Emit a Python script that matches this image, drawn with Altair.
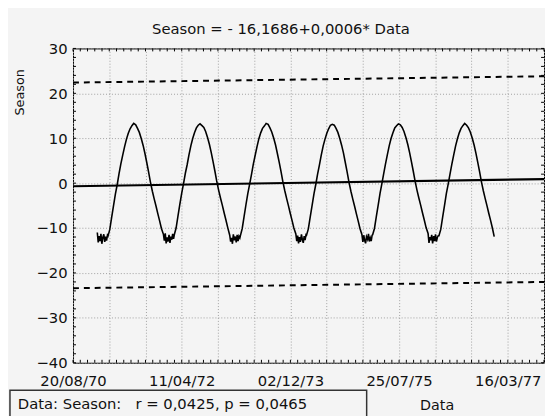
import altair as alt
import pandas as pd

TITLE = "Season = - 16,1686+0,0006* Data"
STATS = "Data: Season:\u00a0\u00a0\u00a0r = 0,0425, p = 0,0465"
X_TITLE = "Data"
Y_TITLE = "Season"

# Axis tick values (Statistica date serials, days)
X_GRID = list(range(25800, 28401, 200))
X_MINOR = list(range(25800, 28401, 40))
Y_MAJOR = list(range(-40, 31, 10))
Y_MINOR = list(range(-40, 31, 2))

YEARS = [1971, 1972, 1973, 1974, 1975, 1976]
TROUGH_DAYS = [(1, 1), (1, 6), (1, 11), (1, 16), (1, 21), (1, 26),
               (2, 1), (2, 6), (2, 11), (2, 16), (2, 21), (2, 26)]
REST_DAYS = [(m, d) for m in range(3, 13) for d in (1, 11, 21)]

TROUGH_VALS = {
    1971: [-11.0, -13.2, -11.8, -12.9, -11.3, -13.5, -12.0, -11.4, -13.1, -11.9, -12.8, -11.6],
    1972: [-11.4, -12.8, -11.2, -13.4, -12.1, -13.0, -11.5, -13.3, -11.9, -12.6, -11.3, -12.4],
    1973: [-11.6, -13.0, -12.2, -13.5, -11.4, -12.7, -11.9, -13.2, -11.5, -12.9, -11.8, -12.2],
    1974: [-11.3, -12.9, -11.7, -13.4, -12.0, -13.1, -11.4, -12.6, -13.3, -11.8, -12.7, -11.5],
    1975: [-11.5, -13.1, -11.6, -12.8, -13.4, -11.9, -12.5, -11.3, -13.0, -12.2, -12.9, -11.6],
    1976: [-11.2, -13.3, -12.0, -12.7, -11.5, -13.4, -11.8, -12.9, -11.4, -13.0, -12.1, -11.7],
}
REST_VALS = {
    1971: [-11.8, -10.3, -7.7, -4.9, -2.4, -0.3, 2.1, 4.3, 6.2, 8.2, 9.8, 11.1, 12.1, 12.8, 13.3,
           13.0, 12.2, 11.3, 9.9, 8.4, 6.6, 4.6, 2.5, 0.3, -1.8, -3.5, -5.1, -6.8, -8.4, -10.1],
    1972: [-11.5, -10.0, -7.4, -4.6, -2.2, -0.1, 2.2, 4.1, 6.3, 8.4, 10.0, 11.3, 12.3, 12.9, 13.2,
           12.8, 12.4, 11.5, 10.1, 8.6, 6.8, 4.8, 2.7, 0.5, -1.6, -3.3, -4.9, -6.6, -8.2, -9.9],
    1973: [-11.7, -10.1, -7.5, -4.7, -2.3, -0.2, 1.9, 4.2, 6.1, 8.2, 9.9, 11.2, 12.2, 12.7, 13.3,
           13.1, 12.3, 11.4, 10.0, 8.5, 6.6, 4.7, 2.6, 0.4, -1.7, -3.4, -5.0, -6.7, -8.3, -10.0],
    1974: [-11.6, -10.2, -7.6, -4.9, -2.4, -0.3, 2.0, 4.0, 6.2, 8.3, 9.8, 11.1, 12.1, 12.9, 13.1,
           12.9, 12.2, 11.3, 9.9, 8.4, 6.7, 4.6, 2.5, 0.3, -1.8, -3.5, -5.1, -6.8, -8.4, -10.1],
    1975: [-11.5, -10.1, -7.5, -4.8, -2.2, -0.1, 2.1, 4.3, 6.3, 8.4, 10.0, 11.2, 12.3, 12.8, 13.2,
           13.0, 12.4, 11.5, 10.1, 8.6, 6.8, 4.8, 2.7, 0.5, -1.6, -3.3, -4.9, -6.6, -8.2, -9.9],
    1976: [-11.7, -10.3, -7.7, -4.9, -2.3, -0.2, 2.0, 4.2, 6.2, 8.3, 9.9, 11.2, 12.2, 12.8, 13.3,
           12.9, 12.3, 11.4, 10.0, 8.5, 6.7, 4.7, 2.6, 0.4, -1.7, -3.4, -5.0, -6.7, -8.3, -10.0],
}
LAST_DATE = (1976, 12, 31)
LAST_VAL = -11.9

# Regression line and prediction band end values
REG_X = [25800, 28400]
REG_Y = [-0.7, 0.9]
UPPER_Y = [22.4, 23.8]
LOWER_Y = [-23.4, -22.0]

BASE = pd.Timestamp(1899, 12, 30)


def serial(y, m, d):
    return (pd.Timestamp(y, m, d) - BASE).days


rows = []
for yr in YEARS:
    for (m, d), v in zip(TROUGH_DAYS, TROUGH_VALS[yr]):
        rows.append({"Data": serial(yr, m, d), "Season": v})
    for (m, d), v in zip(REST_DAYS, REST_VALS[yr]):
        rows.append({"Data": serial(yr, m, d), "Season": v})
rows.append({"Data": serial(*LAST_DATE), "Season": LAST_VAL})
series = pd.DataFrame(rows)

reg = pd.DataFrame({"Data": REG_X, "Season": REG_Y})
bands = pd.DataFrame({
    "Data": REG_X + REG_X,
    "Season": UPPER_Y + LOWER_Y,
    "band": ["upper", "upper", "lower", "lower"],
})

FONT = "DejaVu Sans"
TXT = "#111111"
W, H = 478, 319

xscale = alt.Scale(domain=[25800, 28400], nice=False, zero=False)
yscale = alt.Scale(domain=[-40, 30], nice=False, zero=False)

label_expr = ("(datum.value - 25800) % 600 == 0 ? "
              "utcFormat((datum.value - 25569) * 86400000, '%d/%m/%y') : ''")

x_axis = alt.Axis(values=X_GRID, labelExpr=label_expr, grid=True, gridColor="#a0a0a0",
                  gridDash=[1, 2], gridWidth=1, ticks=False, tickSize=0, domain=False,
                  labelFlush=False, labelOverlap=False, labelFont=FONT, labelFontSize=15,
                  labelColor=TXT, labelPadding=11, title=X_TITLE, titleX=369, titleY=43,
                  titleAlign="center", titleBaseline="middle", titleFont=FONT,
                  titleFontSize=14.5, titleFontWeight="normal", titleColor=TXT)
y_axis = alt.Axis(values=Y_MAJOR, grid=True, gridColor="#a0a0a0", gridDash=[1, 2],
                  gridWidth=1, ticks=False, tickSize=0, domain=False, labelFlush=False,
                  labelOverlap=False, labelFont=FONT, labelFontSize=15, labelColor=TXT,
                  labelPadding=6, title=Y_TITLE, titleX=-54, titleY=44, titleAngle=270,
                  titleAlign="center", titleBaseline="middle", titleFont=FONT,
                  titleFontSize=13, titleFontWeight="normal", titleColor=TXT)


def X():
    return alt.X("Data:Q", scale=xscale, axis=x_axis, title=X_TITLE)


def Y():
    return alt.Y("Season:Q", scale=yscale, axis=y_axis, title=Y_TITLE)


line = alt.Chart(series).mark_line(color="black", strokeWidth=1.6).encode(
    x=X(), y=Y(), order="Data:Q")

reg_line = alt.Chart(reg).mark_line(color="black", strokeWidth=2.2).encode(x=X(), y=Y())

band_lines = alt.Chart(bands).mark_line(color="black", strokeWidth=2, strokeDash=[6, 5]).encode(
    x=X(), y=Y(), detail="band:N")

xt = pd.DataFrame({"Data": X_MINOR})
yt = pd.DataFrame({"Season": Y_MINOR})
tick_bottom = alt.Chart(xt).mark_rule(color="black", strokeWidth=1).encode(
    x=X(), y=alt.value(H - 3), y2=alt.value(H))
tick_top = alt.Chart(xt).mark_rule(color="black", strokeWidth=1).encode(
    x=X(), y=alt.value(0), y2=alt.value(3))
tick_left = alt.Chart(yt).mark_rule(color="black", strokeWidth=1).encode(
    y=Y(), x=alt.value(0), x2=alt.value(3))
tick_right = alt.Chart(yt).mark_rule(color="black", strokeWidth=1).encode(
    y=Y(), x=alt.value(W - 3), x2=alt.value(W))

title_mark = alt.Chart(pd.DataFrame({"t": [TITLE]})).mark_text(
    font=FONT, fontSize=15, align="center", baseline="middle", color=TXT).encode(
    x=alt.value(211), y=alt.value(-20), text="t:N")

box = alt.Chart(pd.DataFrame({"t": [STATS]})).mark_rect(
    fill="transparent", stroke="#333333", strokeWidth=1.5).encode(
    x=alt.value(-64), x2=alt.value(298), y=alt.value(347), y2=alt.value(385))

box_text = alt.Chart(pd.DataFrame({"t": [STATS]})).mark_text(
    font=FONT, fontSize=15, align="left", baseline="middle", color=TXT).encode(
    x=alt.value(-56), y=alt.value(361), text="t:N")

chart = alt.layer(
    line, tick_bottom, tick_top, tick_left, tick_right, band_lines, reg_line,
    title_mark, box, box_text,
).properties(
    width=W, height=H,
    autosize=alt.AutoSizeParams(type="none"),
    padding={"left": 66, "top": 38, "right": 1, "bottom": 51},
    background="#f4f4f4",
).configure_view(stroke="black", strokeWidth=1)

chart.save("out.html", embed_options={"renderer": "svg", "actions": False})
